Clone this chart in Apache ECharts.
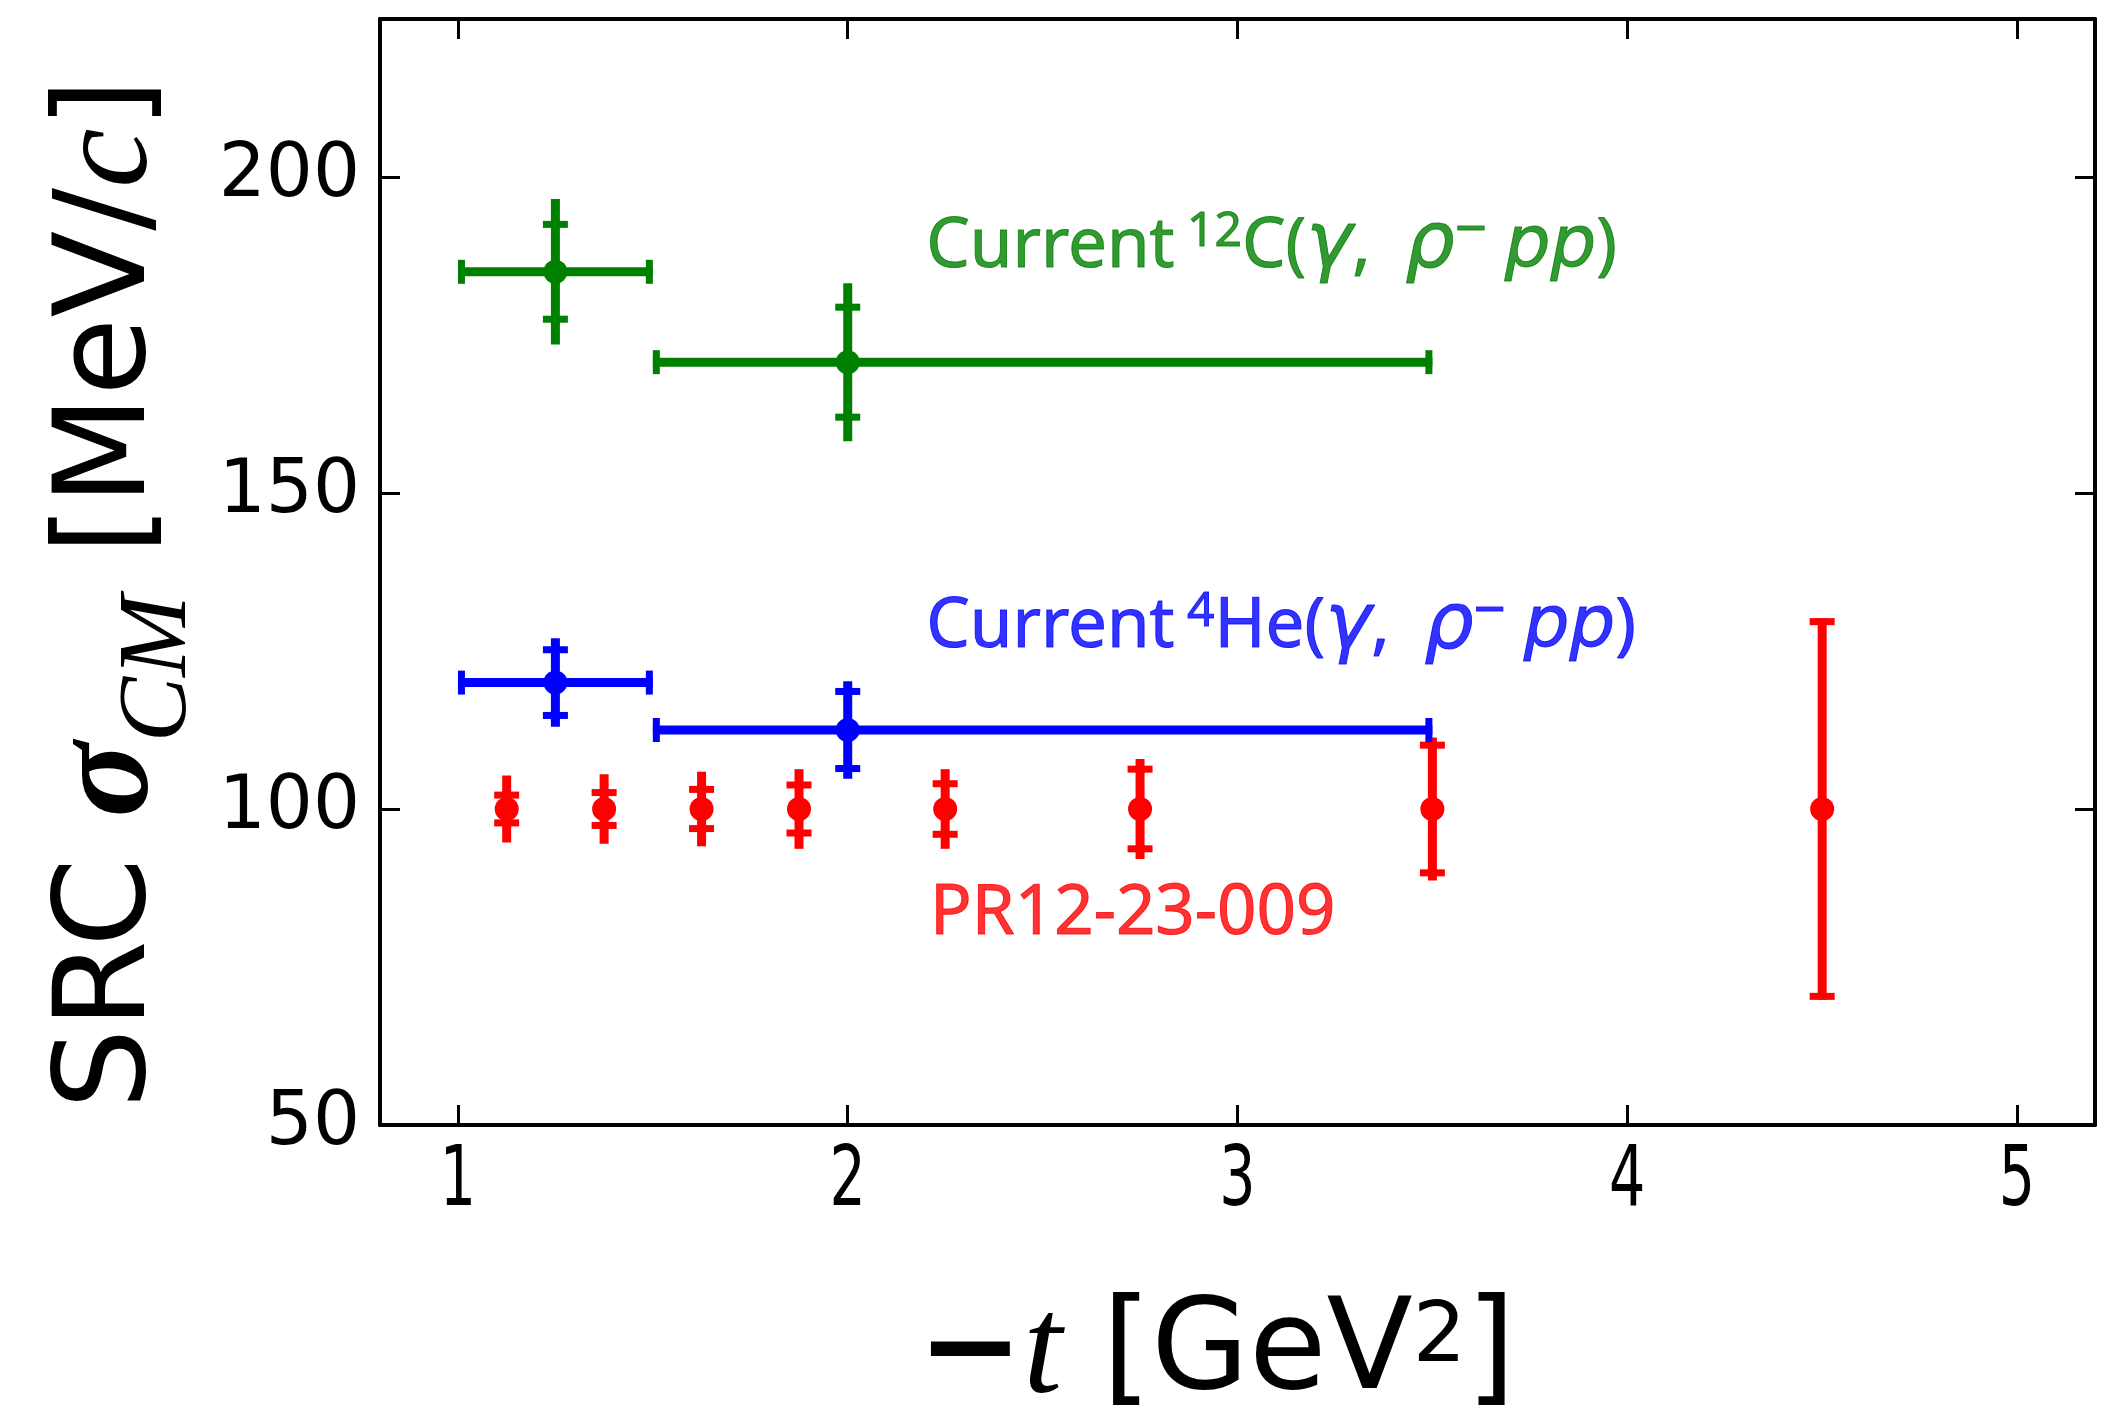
<!DOCTYPE html>
<html>
<head>
<meta charset="utf-8">
<script src="https://cdn.jsdelivr.net/npm/echarts@6/dist/echarts.min.js"></script>
<style>
  html, body { margin: 0; padding: 0; background: #fff; }
  #chart { width: 2111px; height: 1412px; }
</style>
</head>
<body>
<div id="chart"></div>
<script>
// ---- data: -t bins (GeV^2) and SRC sigma_CM (MeV/c) ----
// 12C(gamma, rho- pp): current measurement
const c12X = [1.25, 2.0];
const c12XLow = [1.0, 1.5];
const c12XHigh = [1.5, 3.5];
const c12Sigma = [185, 170.7];
const c12ErrTotal = [11.5, 12.5];
const c12ErrStat = [7.5, 8.7];

// 4He(gamma, rho- pp): current measurement
const he4X = [1.25, 2.0];
const he4XLow = [1.0, 1.5];
const he4XHigh = [1.5, 3.5];
const he4Sigma = [120, 112.5];
const he4ErrTotal = [7.0, 7.7];
const he4ErrStat = [5.2, 6.1];

// PR12-23-009 projections
const prX = [1.125, 1.375, 1.625, 1.875, 2.25, 2.75, 3.5, 4.5];
const prSigma = [100, 100, 100, 100, 100, 100, 100, 100];
const prErrTotal = [5.3, 5.5, 5.9, 6.3, 6.3, 7.9, 11.3, 30.2];
const prErrStat = [2.2, 2.6, 3.1, 3.8, 4.0, 6.3, 10.1, 30.2];

// axis ticks
const xTicks = [1, 2, 3, 4, 5];
const yTicks = [50, 100, 150, 200];

// annotation anchors (left edge, vertical middle of the text), in data units
const noteC12 = [2.2, 188.9];
const noteHe4 = [2.2, 128.7];
const notePR = [2.21, 83.4];

const GREEN = '#008000';
const BLUE = '#0000ff';
const RED = '#ff0000';

const BAR_W = 9;       // error bar line width
const CAP_W = 7;       // cap line width
const CAP_HALF = 12.5; // half length of caps

// rows: [x, y, xLow, xHigh, errTotal, errStat]
function rows(xs, ys, xlo, xhi, tot, stat) {
  return xs.map((x, i) => [x, ys[i], xlo ? xlo[i] : x, xhi ? xhi[i] : x, tot[i], stat[i]]);
}

function errorBarItem(params, api) {
  const x = api.value(0), y = api.value(1);
  const xlo = api.value(2), xhi = api.value(3);
  const tot = api.value(4), stat = api.value(5);
  const color = api.visual('color');
  const c = api.coord([x, y]);
  const seg = (x1, y1, x2, y2, w) => ({
    type: 'line',
    shape: { x1, y1, x2, y2 },
    style: { stroke: color, lineWidth: w, lineCap: 'butt' }
  });
  const children = [];
  if (xhi > xlo) {
    const l = api.coord([xlo, y])[0];
    const r = api.coord([xhi, y])[0];
    children.push(seg(l, c[1], r, c[1], BAR_W));
    children.push(seg(l + CAP_W / 2, c[1] - 12, l + CAP_W / 2, c[1] + 12, CAP_W));
    children.push(seg(r - CAP_W / 2, c[1] - 12, r - CAP_W / 2, c[1] + 12, CAP_W));
  }
  const top = api.coord([x, y + tot])[1];
  const bot = api.coord([x, y - tot])[1];
  children.push(seg(c[0], top, c[0], bot, BAR_W));
  const sTop = api.coord([x, y + stat])[1];
  const sBot = api.coord([x, y - stat])[1];
  const capTop = stat >= tot ? sTop + CAP_W / 2 : sTop;
  const capBot = stat >= tot ? sBot - CAP_W / 2 : sBot;
  children.push(seg(c[0] - CAP_HALF, capTop, c[0] + CAP_HALF, capTop, CAP_W));
  children.push(seg(c[0] - CAP_HALF, capBot, c[0] + CAP_HALF, capBot, CAP_W));
  return { type: 'group', children };
}

function errorSeries(name, color, data) {
  return {
    name, type: 'custom', renderItem: errorBarItem,
    data, encode: { x: 0, y: 1 }, itemStyle: { color },
    clip: false, silent: true, z: 3
  };
}

function pointSeries(name, color, xs, ys) {
  return {
    name, type: 'scatter', symbol: 'circle', symbolSize: 24,
    data: xs.map((x, i) => [x, ys[i]]),
    itemStyle: { color, opacity: 1 }, silent: true, z: 4
  };
}

const noteFont = 'Noto Sans';
function noteRich(color) {
  const edge = { textBorderColor: color, textBorderWidth: 1.0 };
  return {
    n: { fontFamily: noteFont, fontSize: 69, lineHeight: 86, color, ...edge },
    g: { fontFamily: 'DejaVu Sans', fontSize: 78, lineHeight: 86, fontStyle: 'italic', color, ...edge },
    i: { fontFamily: 'DejaVu Sans', fontSize: 72, lineHeight: 86, fontStyle: 'italic', color, ...edge },
    sup: { fontFamily: noteFont, fontSize: 48, verticalAlign: 'top', padding: [4, 0, 0, 0], color, ...edge },
    supm: { fontFamily: noteFont, fontSize: 56, verticalAlign: 'top', color, ...edge }
  };
}

function note(pos, text, color) {
  return {
    value: pos,
    label: {
      show: true, position: 'right', distance: 0,
      formatter: text, rich: noteRich(color)
    }
  };
}

const chart = echarts.init(document.getElementById('chart'), null, { renderer: 'canvas' });

const axisLineStyle = { color: '#000', width: 4 };
const tickStyle = { color: '#000', width: 3 };

chart.setOption({
  backgroundColor: '#fff',
  animation: false,
  grid: { left: 380, right: 16, top: 19, bottom: 287, containLabel: false, outerBoundsMode: 'none' },
  xAxis: [
    {
      type: 'value', min: 0.8, max: 5.2, position: 'bottom',
      axisLine: { show: true, onZero: false, lineStyle: axisLineStyle },
      axisTick: { show: true, inside: true, length: 20, lineStyle: tickStyle, customValues: xTicks },
      axisLabel: { show: false },
      splitLine: { show: false },
      name: '{m|\u2212}{t|t}{a| [GeV}{p|2}{a|]}',
      nameLocation: 'middle', nameGap: 160,
      nameTextStyle: {
        padding: [0, 42, 0, 0],
        rich: {
          m: { fontFamily: 'DejaVu Sans', fontWeight: 'bold', fontSize: 126, lineHeight: 140, color: '#000' },
          t: { fontFamily: 'Liberation Serif', fontStyle: 'italic', fontSize: 140, lineHeight: 140, color: '#000' },
          a: { fontFamily: 'DejaVu Sans', fontSize: 126, lineHeight: 140, color: '#000' },
          p: { fontFamily: 'DejaVu Sans', fontSize: 84, verticalAlign: 'top', padding: [12, 0, 0, 0], color: '#000' }
        }
      }
    },
    {
      type: 'value', min: 0.8, max: 5.2, position: 'top',
      axisLine: { show: true, onZero: false, lineStyle: axisLineStyle },
      axisTick: { show: true, inside: true, length: 20, lineStyle: tickStyle, customValues: xTicks },
      axisLabel: { show: false },
      splitLine: { show: false }
    }
  ],
  yAxis: [
    {
      type: 'value', min: 50, max: 225, position: 'left',
      axisLine: { show: true, onZero: false, lineStyle: axisLineStyle },
      axisTick: { show: true, inside: true, length: 20, lineStyle: tickStyle, customValues: yTicks },
      axisLabel: {
        show: true, customValues: yTicks, margin: 20,
        fontFamily: 'DejaVu Sans', fontSize: 74, color: '#000'
      },
      splitLine: { show: false },
      name: '{a|SRC }{s|\u03c3}{b|CM}{a| [MeV/}{c|c}{a|]}',
      nameLocation: 'middle', nameRotate: 90, nameGap: 172,
      nameTextStyle: {
        padding: [0, 44, 0, 0],
        rich: {
          a: { fontFamily: 'DejaVu Sans', fontSize: 127, lineHeight: 194, color: '#000' },
          s: { fontFamily: 'Liberation Serif', fontWeight: 'bold', fontStyle: 'italic', fontSize: 140, lineHeight: 194, color: '#000' },
          b: { fontFamily: 'Liberation Serif', fontStyle: 'italic', fontSize: 98, verticalAlign: 'bottom', color: '#000' },
          c: { fontFamily: 'Liberation Serif', fontStyle: 'italic', fontSize: 134, lineHeight: 194, color: '#000' }
        }
      }
    },
    {
      type: 'value', min: 50, max: 225, position: 'right',
      axisLine: { show: true, onZero: false, lineStyle: axisLineStyle },
      axisTick: { show: true, inside: true, length: 20, lineStyle: tickStyle, customValues: yTicks },
      axisLabel: { show: false },
      splitLine: { show: false }
    }
  ],
  series: [
    errorSeries('PR12-23-009 errors', RED, rows(prX, prSigma, null, null, prErrTotal, prErrStat)),
    pointSeries('PR12-23-009', RED, prX, prSigma),
    errorSeries('4He errors', BLUE, rows(he4X, he4Sigma, he4XLow, he4XHigh, he4ErrTotal, he4ErrStat)),
    pointSeries('4He', BLUE, he4X, he4Sigma),
    errorSeries('12C errors', GREEN, rows(c12X, c12Sigma, c12XLow, c12XHigh, c12ErrTotal, c12ErrStat)),
    pointSeries('12C', GREEN, c12X, c12Sigma),
    {
      name: 'notes', type: 'scatter', symbolSize: 1, silent: true, z: 5,
      itemStyle: { color: 'rgba(0,0,0,0)' },
      data: [
        note(noteC12, '{n|Current}{sup| 12}{n|C(}{g|\u03b3}{n|,\u2002}{g|\u03c1}{supm|\u2212}{n| }{i|pp}{n|)}', GREEN),
        note(noteHe4, '{n|Current}{sup| 4}{n|He(}{g|\u03b3}{n|,\u2002}{g|\u03c1}{supm|\u2212}{n| }{i|pp}{n|)}', BLUE),
        note(notePR, '{n|PR12-23-009}', RED)
      ]
    }
  ]
});

// x tick labels: condensed digits placed under each tick through the axis scale
const axisBottom = chart.convertToPixel({ gridIndex: 0 }, [xTicks[0], 50])[1];
chart.setOption({
  graphic: xTicks.map(v => ({
    type: 'text',
    x: chart.convertToPixel({ gridIndex: 0 }, [v, 50])[0],
    y: axisBottom + 16,
    scaleX: 0.68,
    silent: true,
    style: {
      text: String(v),
      fontFamily: 'DejaVu Sans',
      fontSize: 84,
      fill: '#000',
      align: 'center',
      verticalAlign: 'top'
    }
  }))
});
</script>
</body>
</html>
